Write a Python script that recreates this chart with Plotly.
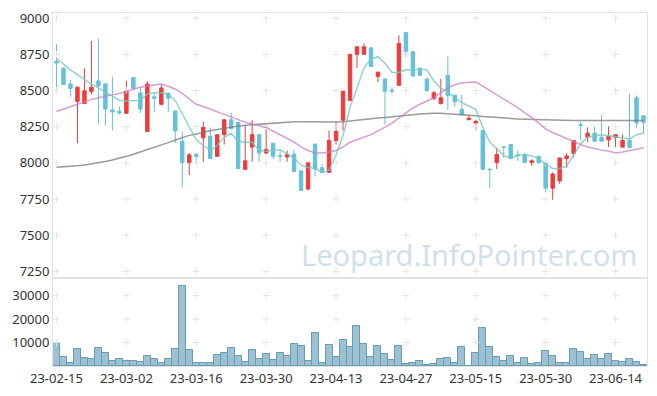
import plotly.graph_objects as go

dates = ["23-02-15","23-02-16","23-02-17","23-02-20","23-02-21","23-02-22","23-02-23","23-02-24","23-02-27","23-02-28",
         "23-03-02","23-03-03","23-03-06","23-03-07","23-03-08","23-03-09","23-03-10","23-03-13","23-03-14","23-03-15",
         "23-03-16","23-03-17","23-03-20","23-03-21","23-03-22","23-03-23","23-03-24","23-03-27","23-03-28","23-03-29",
         "23-03-30","23-03-31","23-04-03","23-04-04","23-04-05","23-04-06","23-04-07","23-04-10","23-04-11","23-04-12",
         "23-04-13","23-04-14","23-04-17","23-04-18","23-04-19","23-04-20","23-04-21","23-04-24","23-04-25","23-04-26",
         "23-04-27","23-04-28","23-05-02","23-05-03","23-05-04","23-05-08","23-05-09","23-05-10","23-05-11","23-05-12",
         "23-05-15","23-05-16","23-05-17","23-05-18","23-05-19","23-05-22","23-05-23","23-05-24","23-05-25","23-05-26",
         "23-05-30","23-05-31","23-06-01","23-06-02","23-06-05","23-06-07","23-06-08","23-06-09","23-06-12","23-06-13",
         "23-06-14","23-06-15","23-06-16","23-06-19","23-06-20"]

open_ = [8700,8655,8546,8425,8411,8493,8566,8546,8366,8357,
         8343,8590,8484,8216,8457,8405,8482,8359,8150,8002,
         8057,8173,8184,8045,8195,8298,8280,7955,8109,8195,
         8068,8136,8050,8041,8060,7945,7820,8130,7966,7934,
         8155,8295,8432,8750,8750,8795,8598,8580,8503,8536,
         8900,8768,8655,8580,8445,8409,8605,8468,8370,8298,
         8275,8223,7957,8002,8111,8127,8055,8057,8002,8045,
         8000,7825,7875,8030,8064,8264,8177,8205,8177,8159,
         8177,8109,8155,8450,8325]
high = [8820,8660,8575,8527,8652,8843,8859,8550,8598,8390,
        8568,8592,8520,8565,8484,8541,8485,8360,8216,8068,
        8068,8284,8245,8197,8300,8348,8285,8261,8295,8197,
        8234,8138,8090,8086,8091,7945,8002,8130,7991,8223,
        8284,8498,8752,8805,8825,8797,8630,8582,8523,8882,
        8902,8770,8657,8582,8500,8580,8734,8470,8473,8332,
        8298,8225,7957,8105,8114,8127,8086,8068,8025,8050,
        8002,7934,8036,8068,8157,8286,8245,8252,8332,8252,
        8198,8195,8477,8466,8327]
low = [8498,8540,8457,8136,8405,8473,8264,8260,8223,8332,
       8340,8510,8345,8214,8352,8398,8352,8136,7830,7916,
       8007,8007,8025,8043,8127,8234,7958,7955,8007,8007,
       8060,8025,8007,8007,7935,7805,7809,7905,7930,7932,
       8127,8223,8425,8655,8748,8664,8557,8264,8477,8534,
       8727,8598,8600,8491,8432,8405,8366,8389,8330,8296,
       8223,7955,7825,7957,8034,8025,8014,8000,7980,7998,
       7795,7745,7855,7966,8036,8155,8143,8148,8148,8109,
       8109,8105,8103,8245,8205]
close = [8690,8541,8514,8523,8498,8523,8534,8372,8352,8345,
         8500,8515,8372,8545,8447,8518,8447,8221,8002,8055,
         8045,8245,8030,8195,8298,8236,7961,8014,8195,8068,
         8093,8045,8046,8057,7940,7809,8000,7957,7934,8155,
         8218,8495,8750,8802,8802,8666,8627,8495,8497,8825,
         8768,8600,8605,8500,8484,8450,8466,8423,8332,8309,
         8286,7955,7953,8057,8107,8030,8050,8002,8014,8000,
         7825,7923,8034,8048,8155,8259,8205,8150,8150,8184,
         8195,8155,8105,8275,8280]

ma5 = [8723,8683,8643,8610,8575,8545,8518,8490,8461,8432,
       8427,8427,8432,8477,8484,8484,8473,8430,8341,8257,
       8159,8120,8086,8120,8177,8205,8148,8143,8143,8086,
       8082,8086,8091,8064,8033,7984,7968,7961,7932,7950,
       8052,8189,8382,8518,8655,8718,8734,8689,8627,8625,
       8643,8641,8650,8643,8568,8514,8491,8450,8416,8393,
       8370,8245,8143,8098,8052,8030,8052,8057,8048,8030,
       7991,7961,7961,7977,8052,8132,8177,8189,8193,8189,
       8182,8170,8166,8195,8205]
ma20 = [8355,8372,8390,8405,8422,8439,8450,8462,8470,8480,
        8495,8510,8522,8532,8541,8545,8530,8509,8480,8440,
        8405,8390,8370,8352,8335,8318,8300,8280,8268,8257,
        8245,8220,8195,8170,8143,8110,8085,8068,8068,8075,
        8086,8110,8143,8160,8178,8195,8220,8245,8275,8309,
        8345,8380,8405,8428,8450,8485,8518,8540,8552,8558,
        8559,8530,8500,8473,8440,8410,8382,8345,8314,8275,
        8234,8210,8188,8166,8145,8127,8109,8098,8088,8082,
        8068,8075,8085,8095,8105]
ma60 = [7970,7972,7975,7980,7985,7992,8000,8010,8020,8030,
        8045,8060,8075,8090,8105,8120,8140,8158,8175,8190,
        8200,8212,8222,8230,8239,8247,8254,8260,8264,8267,
        8270,8275,8279,8282,8284,8284,8283,8283,8282,8282,
        8283,8284,8290,8295,8300,8305,8310,8314,8320,8325,
        8330,8333,8337,8341,8343,8343,8340,8338,8335,8330,
        8325,8320,8316,8312,8309,8306,8304,8302,8300,8298,
        8297,8296,8295,8294,8293,8292,8292,8292,8292,8292,
        8293,8293,8293,8293,8293]

volume = [9860,3944,1408,7324,3521,3099,7746,5634,2254,3099,
          2254,2254,1831,4366,2817,1408,2817,7324,34085,6901,
          1408,1408,1408,4789,5634,7746,4366,1831,6901,3099,
          5211,2676,5634,4366,9437,8592,2254,14085,1408,9014,
          3944,11127,8169,17042,9437,3944,8592,5211,2676,8592,
          986,1408,2254,563,986,3099,3521,1408,8169,141,
          5634,16197,8169,3944,2254,4366,1408,3521,986,1408,
          6479,4366,1408,1408,7324,6056,3099,4789,3099,5211,
          2254,1831,3099,1831,563]

price_ticks = [7250, 7500, 7750, 8000, 8250, 8500, 8750, 9000]
vol_ticks = [10000, 20000, 30000]
vol_tick_labels = ["10000", "20000", "30000"]
x_tick_idx = [0, 10, 20, 30, 40, 50, 60, 70, 80]

xs = list(range(len(dates)))

fig = go.Figure()

grid_marker = dict(symbol="cross-thin", size=5, line=dict(width=1, color="#e4e4e4"))
gx, gy = [], []
for xv in x_tick_idx:
    for yv in price_ticks:
        gx.append(xv); gy.append(yv)
fig.add_trace(go.Scatter(x=gx, y=gy, mode="markers", hoverinfo="skip", marker=grid_marker,
                         xaxis="x", yaxis="y", showlegend=False))
vx, vy = [], []
for xv in x_tick_idx:
    for yv in vol_ticks:
        vx.append(xv); vy.append(yv)
fig.add_trace(go.Scatter(x=vx, y=vy, mode="markers", hoverinfo="skip", marker=grid_marker,
                         xaxis="x2", yaxis="y2", showlegend=False))

fig.add_trace(go.Scatter(x=xs, y=ma60, mode="lines", line=dict(color="rgba(120,120,120,0.75)", width=1.5),
                         xaxis="x", yaxis="y", showlegend=False))
fig.add_trace(go.Scatter(x=xs, y=ma20, mode="lines", line=dict(color="rgba(200,125,195,0.75)", width=1.5),
                         xaxis="x", yaxis="y", showlegend=False))
fig.add_trace(go.Scatter(x=xs, y=ma5, mode="lines", line=dict(color="rgba(120,200,190,0.8)", width=1.5),
                         xaxis="x", yaxis="y", showlegend=False))

fig.add_trace(go.Candlestick(x=xs, open=open_, high=high, low=low, close=close,
                             increasing=dict(line=dict(color="#ee3b3b", width=1), fillcolor="#ee3b3b"),
                             decreasing=dict(line=dict(color="#64c1da", width=1), fillcolor="#64c1da"),
                             whiskerwidth=0, xaxis="x", yaxis="y", showlegend=False))

fig.add_trace(go.Bar(x=xs, y=volume, width=1.0,
                     marker=dict(color="rgba(155,193,210,1)", line=dict(color="rgba(105,155,180,1)", width=1)),
                     xaxis="x2", yaxis="y2", showlegend=False))

split = (367 - 278) / 357.0
axis_line = "#e3e3e3"
tickfont = dict(family="Noto Sans, sans-serif", size=13, color="#333")

fig.update_layout(
    width=657, height=396,
    margin=dict(l=53, r=9, t=10, b=29),
    paper_bgcolor="white", plot_bgcolor="white",
    showlegend=False,
    bargap=0,
    xaxis=dict(domain=[0, 1], range=[-0.5, 84.5], anchor="y", showticklabels=False,
               showgrid=False, zeroline=False, showline=True, mirror=True, linecolor=axis_line,
               rangeslider=dict(visible=False), tickvals=x_tick_idx, ticks=""),
    yaxis=dict(domain=[split, 1], range=[7204, 9036], anchor="x", tickvals=price_ticks,
               showgrid=False, zeroline=False, showline=True, mirror=True, linecolor=axis_line,
               tickfont=tickfont, ticks=""),
    xaxis2=dict(domain=[0, 1], range=[-0.5, 84.5], anchor="y2", tickvals=x_tick_idx,
                ticktext=[dates[i] for i in x_tick_idx], showgrid=False, zeroline=False,
                showline=True, mirror=True, linecolor=axis_line, tickfont=tickfont, ticks=""),
    yaxis2=dict(domain=[0, split], range=[0, 37550], anchor="x2", tickvals=vol_ticks,
                ticktext=vol_tick_labels, showgrid=False, zeroline=False, showline=True, mirror=True,
                linecolor=axis_line, tickfont=tickfont, ticks=""),
    annotations=[dict(text="Leopard.InfoPointer.com", xref="paper", yref="paper",
                      x=0.988, y=0.316, xanchor="right", yanchor="middle", showarrow=False,
                      font=dict(family="Noto Sans, sans-serif", size=29, color="rgba(175,203,222,0.6)"))],
)

fig.write_html("out.html", config={"displayModeBar": False},
               post_script="document.body.style.margin='0';document.body.style.overflow='hidden';")
